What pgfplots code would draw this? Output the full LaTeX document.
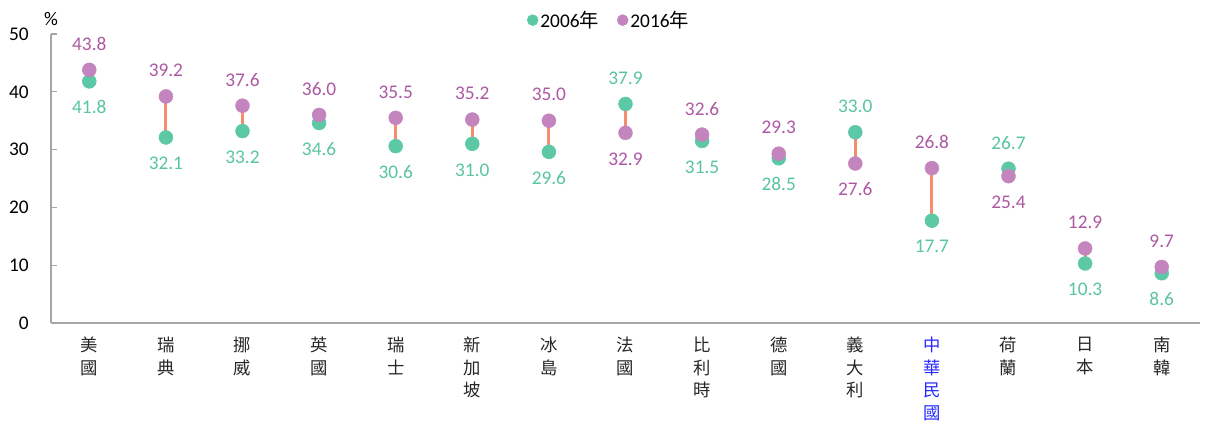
\documentclass[border=0pt]{standalone}
\usepackage{pgfplots}
\pgfplotsset{compat=1.18}
\usepackage{fontspec}
\setmainfont{Carlito}
\newfontfamily\cjk{Noto Sans CJK TC}
\definecolor{cgreen}{RGB}{92,200,166}
\definecolor{cpurple}{RGB}{196,132,190}
\definecolor{tgreen}{RGB}{88,196,160}
\definecolor{tpurple}{RGB}{172,88,162}
\definecolor{csalmon}{RGB}{246,140,110}
\definecolor{caxis}{RGB}{166,166,166}
\definecolor{cblue}{RGB}{40,40,255}
\begin{document}
\begin{tikzpicture}[x=1pt,y=1pt]
\begin{axis}[
  scale only axis,
  width=861.75pt, height=216.75pt,
  at={(0,0)}, anchor=south west,
  xmin=-0.5, xmax=14.5,
  ymin=0, ymax=50,
  axis x line*=bottom, axis y line*=left,
  axis line style={caxis, line width=1.1pt},
  x axis line style={-}, y axis line style={-},
  ytick={0,10,20,30,40,50},
  ytick style={caxis, line width=1pt},
  major tick length=4.5pt,
  tick align=inside,
  xtick={0,...,14},
  xtick style={draw=none},
  minor xtick={-0.5,0.5,...,14.5},
  minor tick length=4.5pt,
  minor x tick style={caxis, line width=1pt},
  xticklabels={{美\\國},{瑞\\典},{挪\\威},{英\\國},{瑞\\士},{新\\加\\坡},{冰\\島},{法\\國},{比\\利\\時},{德\\國},{義\\大\\利},{{\color{cblue}中}\\{\color{cblue}華}\\{\color{cblue}民}\\{\color{cblue}國}},{荷\\蘭},{日\\本},{南\\韓}},
  xticklabel style={font=\fontsize{13}{16.8}\selectfont\cjk, align=center, anchor=north, inner sep=0pt, yshift=-10.5pt, text=black!85},
  yticklabel style={font=\fontsize{14.5}{16}\selectfont, anchor=east, inner sep=0pt, xshift=-16.5pt},
  /pgf/number format/assume math mode=true,
  clip=false,
  unbounded coords=jump,
  legend image code/.code={\fill[#1] (0pt,0pt) circle (4.1pt);},
  legend style={draw=none, fill=none, at={(0.4856,1.048)}, anchor=center, font=\fontsize{14.5}{16}\selectfont, legend columns=2,
    /tikz/every odd column/.append style={column sep=0pt},
    /tikz/every even column/.append style={column sep=12pt},
    nodes={inner sep=1.5pt}},
  legend cell align=left,
]
% connectors
\addplot[csalmon, line width=2.3pt, forget plot] coordinates {
(0,41.8) (0,43.8) (0,nan)
(1,32.1) (1,39.2) (1,nan)
(2,33.2) (2,37.6) (2,nan)
(3,34.6) (3,36.0) (3,nan)
(4,30.6) (4,35.5) (4,nan)
(5,31.0) (5,35.2) (5,nan)
(6,29.6) (6,35.0) (6,nan)
(7,37.9) (7,32.9) (7,nan)
(8,31.5) (8,32.6) (8,nan)
(9,28.5) (9,29.3) (9,nan)
(10,33.0) (10,27.6) (10,nan)
(11,17.7) (11,26.8) (11,nan)
(12,26.7) (12,25.4) (12,nan)
(13,10.3) (13,12.9) (13,nan)
(14,8.6) (14,9.7)
};
% 2006
\addplot[only marks, mark=*, mark size=5.2pt, cgreen, mark options={draw=none, fill=cgreen}] coordinates {
(0,41.8) (1,32.1) (2,33.2) (3,34.6) (4,30.6) (5,31.0) (6,29.6) (7,37.9) (8,31.5) (9,28.5) (10,33.0) (11,17.7) (12,26.7) (13,10.3) (14,8.6)
};
\addlegendentry{2006{\cjk 年}}
% 2016
\addplot[only marks, mark=*, mark size=5.2pt, cpurple, mark options={draw=none, fill=cpurple}] coordinates {
(0,43.8) (1,39.2) (2,37.6) (3,36.0) (4,35.5) (5,35.2) (6,35.0) (7,32.9) (8,32.6) (9,29.3) (10,27.6) (11,26.8) (12,25.4) (13,12.9) (14,9.7)
};
\addlegendentry{2016{\cjk 年}}
% labels: green below
\addplot[draw=none, mark=none, forget plot, nodes near coords, point meta=explicit symbolic,
  every node near coord/.style={anchor=center, inner sep=0pt, yshift=-19.5pt, text=tgreen, font=\fontsize{14.5}{16}\selectfont}]
  coordinates {
(0,41.8) [41.8] (1,32.1) [32.1] (2,33.2) [33.2] (3,34.6) [34.6] (4,30.6) [30.6] (5,31.0) [31.0] (6,29.6) [29.6] (8,31.5) [31.5] (9,28.5) [28.5] (11,17.7) [17.7] (13,10.3) [10.3] (14,8.6) [8.6]
};
% labels: green above
\addplot[draw=none, mark=none, forget plot, nodes near coords, point meta=explicit symbolic,
  every node near coord/.style={anchor=center, inner sep=0pt, yshift=19.5pt, text=tgreen, font=\fontsize{14.5}{16}\selectfont}]
  coordinates {
(7,37.9) [37.9] (10,33.0) [33.0] (12,26.7) [26.7]
};
% labels: purple above
\addplot[draw=none, mark=none, forget plot, nodes near coords, point meta=explicit symbolic,
  every node near coord/.style={anchor=center, inner sep=0pt, yshift=19.5pt, text=tpurple, font=\fontsize{14.5}{16}\selectfont}]
  coordinates {
(0,43.8) [43.8] (1,39.2) [39.2] (2,37.6) [37.6] (3,36.0) [36.0] (4,35.5) [35.5] (5,35.2) [35.2] (6,35.0) [35.0] (8,32.6) [32.6] (9,29.3) [29.3] (11,26.8) [26.8] (13,12.9) [12.9] (14,9.7) [9.7]
};
% labels: purple below
\addplot[draw=none, mark=none, forget plot, nodes near coords, point meta=explicit symbolic,
  every node near coord/.style={anchor=center, inner sep=0pt, yshift=-19.5pt, text=tpurple, font=\fontsize{14.5}{16}\selectfont}]
  coordinates {
(7,32.9) [32.9] (10,27.6) [27.6] (12,25.4) [25.4]
};
\node[font=\fontsize{14.5}{16}\selectfont, anchor=south, inner sep=0pt] at (rel axis cs:0,1) [yshift=6pt] {\%};
\end{axis}
\pgfresetboundingbox
\path[use as bounding box] (-38.25pt,-73.5pt) rectangle (866.25pt,242.25pt);
\end{tikzpicture}
\end{document}
